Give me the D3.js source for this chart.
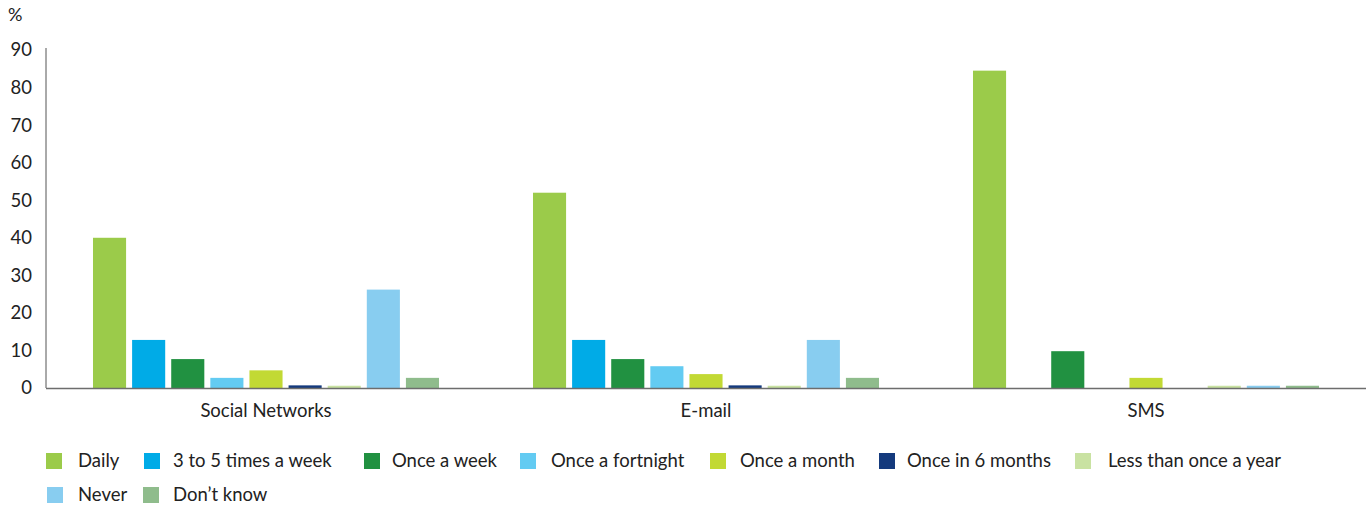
<!DOCTYPE html>
<html><head><meta charset="utf-8">
<script src="https://cdn.jsdelivr.net/npm/d3@7"></script>
<style>
html,body{margin:0;padding:0;background:#fff;}
svg{display:block;}
text{font-family:Lato, "Open Sans", sans-serif;fill:#222;}
</style></head>
<body>
<svg id="chart" width="1372" height="510"></svg>
<script>
const categories = ["Social Networks", "E-mail", "SMS"];
const seriesNames = ["Daily", "3 to 5 times a week", "Once a week", "Once a fortnight", "Once a month", "Once in 6 months", "Less than once a year", "Never", "Don\u2019t know"];
const daily        = [40, 52, 84.5];
const threeToFive  = [12.8, 12.8, 0];
const onceWeek     = [7.7, 7.7, 9.8];
const onceFortnight= [2.7, 5.8, 0];
const onceMonth    = [4.7, 3.7, 2.7];
const onceSixMonths= [0.7, 0.7, 0];
const lessThanYear = [0.6, 0.6, 0.6];
const never        = [26.2, 12.8, 0.6];
const dontKnow     = [2.7, 2.7, 0.6];
const yTicks = [0, 10, 20, 30, 40, 50, 60, 70, 80, 90];
const colors = ["#9bcb4a", "#00abe7", "#219141", "#63cbf2", "#c2d934", "#143a7d", "#c9e2a2", "#88cdf0", "#8fbc8c"];

const seriesValues = [daily, threeToFive, onceWeek, onceFortnight, onceMonth, onceSixMonths, lessThanYear, never, dontKnow];

(function(){
const svg = d3.select("#chart");
const mLeft = 46, mRight = 1366, mTop = 50, mBottom = 388;

const y = d3.scaleLinear().domain([0, 90]).range([mBottom, mTop]);
const x0 = d3.scaleBand().domain(categories).range([mLeft, mRight]).paddingInner(0.2136).paddingOuter(0.1068);
const x1 = d3.scaleBand().domain(seriesNames).range([0, x0.bandwidth()]).paddingInner(0.154).paddingOuter(0);

// bars
categories.forEach((cat, ci) => {
  const g = svg.append("g").attr("transform", `translate(${x0(cat)},0)`);
  seriesNames.forEach((s, si) => {
    const v = seriesValues[si][ci];
    if (v <= 0) return;
    g.append("rect")
      .attr("x", x1(s))
      .attr("width", x1.bandwidth())
      .attr("y", y(v))
      .attr("height", y(0) - y(v))
      .attr("fill", colors[si]);
  });
});

// y axis
const yAxis = d3.axisLeft(y).tickValues(yTicks).tickSize(0).tickPadding(14);
const yg = svg.append("g").attr("transform", `translate(${mLeft},0)`).call(yAxis);
yg.select(".domain").remove();
yg.selectAll("text").style("font-size", "18.5px").attr("fill", "#222");
svg.append("line").attr("x1", mLeft).attr("x2", mLeft).attr("y1", mTop - 2).attr("y2", mBottom)
  .attr("stroke", "#555").attr("stroke-width", 1);

// x axis
const xAxis = d3.axisBottom(x0).tickSize(0).tickPadding(16);
const xg = svg.append("g").attr("transform", `translate(0,${mBottom})`).call(xAxis);
xg.select(".domain").remove();
xg.selectAll("text").style("font-size", "18.5px").attr("fill", "#222");
svg.append("line").attr("x1", mLeft).attr("x2", mRight).attr("y1", mBottom + 0.5).attr("y2", mBottom + 0.5)
  .attr("stroke", "#6d6d6d").attr("stroke-width", 1.5);

// % label
svg.append("text").attr("x", 8).attr("y", 21).style("font-size", "18px").text("%");

// legend
const legendSquareX = [46, 144, 364, 520, 710, 879, 1075, 47, 143];
const legendTextX   = [78, 173, 392, 551, 740, 907, 1108, 78, 173];
const legendRowY    = [461, 461, 461, 461, 461, 461, 461, 495, 495];
seriesNames.forEach((s, i) => {
  const ly = legendRowY[i];
  svg.append("rect").attr("x", legendSquareX[i]).attr("y", ly - 8).attr("width", 16).attr("height", 16).attr("fill", colors[i]);
  svg.append("text").attr("x", legendTextX[i]).attr("y", ly).attr("dy", "0.35em").style("font-size", "18.5px").text(s);
});
})();
</script>
</body></html>
